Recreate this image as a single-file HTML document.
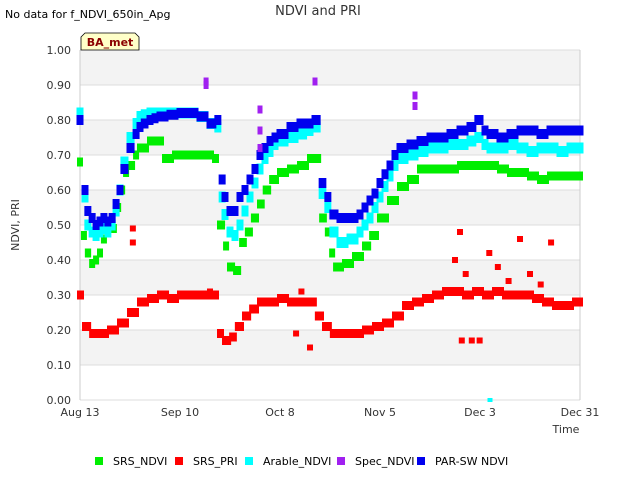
<!DOCTYPE html>
<html><head><meta charset="utf-8"><style>
body{margin:0;background:#fff;font-family:"Liberation Sans",sans-serif}
svg text{font-family:"DejaVu Sans","Liberation Sans",sans-serif}
</style></head><body>
<svg id="chart" width="640" height="480" xmlns="http://www.w3.org/2000/svg">
<rect width="640" height="480" fill="#fff"/>
<g id="bands"></g>
<g id="grid"></g>
<g id="ticks"></g>
<g id="marks"></g>
<text x="5" y="18" font-size="11" fill="#000">No data for f_NDVI_650in_Apg</text>
<text x="318" y="15" font-size="13" fill="#333" text-anchor="middle">NDVI and PRI</text>
<g>
<path d="M81,50 L81,37 L85,33 L135,33 L139,37 L139,50 Z" fill="#ffffc8" stroke="#000" stroke-width="0.8"/>
<text x="110" y="46" font-size="11" font-weight="bold" fill="#8b0000" text-anchor="middle">BA_met</text>
</g>
<text transform="translate(19,225) rotate(-90)" font-size="11" fill="#333" text-anchor="middle">NDVI, PRI</text>
<text x="566" y="433" font-size="11" fill="#333" text-anchor="middle">Time</text>
<g id="legend"></g>
</svg>
<script>
const xTickLabels=["Aug 13","Sep 10","Oct 8","Nov 5","Dec 3","Dec 31"];
const xTickDays=[0,28,56,84,112,140];
const yTicks=[0,0.1,0.2,0.3,0.4,0.5,0.6,0.7,0.8,0.9,1.0];
const blueDays=[0,1.4,2.2,3.4,4.5,5.6,6.7,7.8,9,10.1,11.2,12.3,14,15.7,16.8,18,19.6,21,22.4,25.2,28,30.8,33.6,36.4,38.6,39.8,40.6,42,43.4,44.8,46.2,47.6,49,50.4,51.8,53.2,54.6,56,58.8,61.6,64,65.8,67.8,69.4,70.8,72.8,75.6,78.4,79.8,81.2,82.6,84,85.4,86.8,88.2,89.6,92.4,95.2,98,100.8,103.6,106.4,109.2,111.4,113.4,114.8,117.6,120.4,123.2,126,128.8,131.6,134.4,137.2,140];
const blueVals=[0.80,0.60,0.54,0.52,0.50,0.51,0.52,0.51,0.52,0.56,0.60,0.66,0.72,0.76,0.78,0.79,0.80,0.805,0.81,0.815,0.82,0.82,0.81,0.79,0.80,0.63,0.58,0.54,0.54,0.58,0.60,0.63,0.66,0.70,0.72,0.74,0.75,0.76,0.78,0.79,0.79,0.80,0.62,0.58,0.53,0.52,0.52,0.53,0.55,0.57,0.59,0.62,0.645,0.67,0.70,0.72,0.73,0.74,0.75,0.75,0.76,0.77,0.78,0.80,0.77,0.76,0.75,0.76,0.77,0.77,0.76,0.77,0.77,0.77,0.77];
const cyanDays=blueDays;
const cyanVals=[0.82,0.58,0.50,0.48,0.47,0.48,0.49,0.48,0.50,0.54,0.60,0.68,0.75,0.79,0.81,0.815,0.82,0.82,0.82,0.82,0.82,0.82,0.81,0.79,0.78,0.58,0.53,0.48,0.47,0.50,0.54,0.58,0.62,0.66,0.69,0.71,0.73,0.74,0.75,0.76,0.77,0.78,0.59,0.55,0.48,0.45,0.46,0.48,0.50,0.52,0.55,0.58,0.61,0.64,0.67,0.69,0.70,0.71,0.72,0.72,0.73,0.73,0.74,0.75,0.73,0.72,0.72,0.73,0.72,0.71,0.72,0.72,0.71,0.72,0.72];
const greenDays=[0,1.1,2.2,3.4,4.5,5.6,6.7,7.8,9,10.6,11.8,12.9,14,15.7,16.8,19.6,22.4,23.8,26.6,30.8,35,37.8,39.2,40.9,42,43.7,45.4,47,48.7,50.4,52,53.8,56,58.8,61.6,64.4,66.6,67.8,69.4,70.6,71.7,74.2,77,79.8,81.8,84,86.8,89.6,92.4,95.2,98,100.8,103.6,106.4,109.2,112,114.8,117.6,120.4,123.2,126,128.8,131.6,134.4,137.2,140];
const greenVals=[0.68,0.47,0.42,0.39,0.40,0.42,0.46,0.50,0.49,0.55,0.60,0.65,0.67,0.70,0.72,0.74,0.74,0.69,0.70,0.70,0.70,0.69,0.50,0.44,0.38,0.37,0.45,0.48,0.52,0.56,0.60,0.63,0.65,0.66,0.67,0.69,0.69,0.52,0.48,0.42,0.38,0.39,0.41,0.44,0.47,0.52,0.57,0.61,0.63,0.66,0.66,0.66,0.66,0.67,0.67,0.67,0.67,0.66,0.65,0.65,0.64,0.63,0.64,0.64,0.64,0.64];
const redDays=[0,1.4,3.4,5.6,8.4,11.2,14,16.8,19.6,22.4,25.2,28,30.8,33.6,36.4,39.2,40.6,42.6,44.2,46.2,48.2,50.4,53.2,56,58.8,61.6,64.4,66.6,68.6,70.8,74.2,77,79.8,82.6,85.4,88.2,91,93.8,96.6,99.4,102.2,105,107.8,110.6,113.4,116.2,119,121.8,124.6,127.4,130.2,133,135.8,138.6,140];
const redVals=[0.30,0.21,0.19,0.19,0.20,0.22,0.25,0.28,0.29,0.30,0.29,0.30,0.30,0.30,0.30,0.19,0.17,0.18,0.21,0.24,0.26,0.28,0.28,0.29,0.28,0.28,0.28,0.24,0.21,0.19,0.19,0.19,0.20,0.21,0.22,0.24,0.27,0.28,0.29,0.30,0.31,0.31,0.30,0.31,0.30,0.31,0.30,0.30,0.30,0.29,0.28,0.27,0.27,0.28,0.28];
const redOutDays=[14.8,14.8,106.4,106.9,109.7,111.9,114.6,123.2,131.9,64.4,60.5,36.4,62,105,108,117,120,126,129];
const redOutVals=[0.49,0.45,0.48,0.17,0.17,0.17,0.42,0.46,0.45,0.15,0.19,0.31,0.31,0.40,0.36,0.38,0.34,0.36,0.33];
const specDays=[35.3,35.3,50.4,50.4,50.4,65.8,93.8,93.8];
const specVals=[0.90,0.91,0.83,0.77,0.72,0.91,0.87,0.84];
const cyanOutDays=[114.8];
const cyanOutVals=[0.0];

const NS="http://www.w3.org/2000/svg";
const X0=80,X1=580,Y0=400,Y1=50;
function xs(d){return X0+(X1-X0)*d/140;}
function ys(v){return Y0-(Y0-Y1)*v;}
function mk(tag,attrs,parent){const e=document.createElementNS(NS,tag);for(const k in attrs)e.setAttribute(k,attrs[k]);parent.appendChild(e);return e;}
const bands=document.getElementById('bands'),grid=document.getElementById('grid'),ticks=document.getElementById('ticks'),marks=document.getElementById('marks'),legend=document.getElementById('legend');
for(let i=0;i<10;i++){
  const shaded=(i%2===1);
  const r=mk('rect',{x:X0,y:ys((i+1)/10),width:X1-X0,height:35,fill:shaded?'#f3f3f3':'#fff'},bands);
  
  
}
yTicks.forEach(v=>{
  const l=mk('line',{x1:X0,x2:X1,y1:ys(v),y2:ys(v),stroke:'#dcdcdc','stroke-width':1},grid);
  
  
  const t=mk('text',{x:71,y:ys(v)+4,'font-size':11,fill:'#333','text-anchor':'end'},ticks);
  t.textContent=v.toFixed(2);
  
  
});
mk('line',{x1:X0,x2:X0,y1:Y1,y2:Y0,stroke:'#ccc'},grid);
mk('line',{x1:X1,x2:X1,y1:Y1,y2:Y0,stroke:'#ccc'},grid);
xTickDays.forEach((d,i)=>{
  const t=mk('text',{x:xs(d),y:416,'font-size':11,fill:'#333','text-anchor':'middle'},ticks);
  t.textContent=xTickLabels[i];
  
  
});
// dense-series style: each marker spans to the next sample when close (continuous point cloud look)
function plot(days,vals,color,name,w,h,spread){
  days.forEach((d,i)=>{
    if(vals[i]==null)return;
    let x=xs(d)-w/2, width=w;
    if(spread && i+1<days.length){
      const gap=days[i+1]-d;
      if(gap>0 && gap<4.5) width=Math.max(w, xs(days[i+1])-xs(d)+2);
    }
    const r=mk('rect',{x:x,y:ys(vals[i])-h/2,width:width,height:h,fill:color},marks);
    
    
  });
}
plot(redDays,redVals,'#ff0000','srs-pri-point',6,9,true);
plot(redOutDays,redOutVals,'#ff0000','srs-pri-point',6,6,false);
plot(greenDays,greenVals,'#00ee00','srs-ndvi-point',6,9,true);
plot(cyanDays,cyanVals,'#00ffff','arable-ndvi-point',7,11,true);
plot(cyanOutDays,cyanOutVals,'#00ffff','arable-ndvi-point',5,4,false);
plot(blueDays,blueVals,'#0000ee','par-sw-ndvi-point',7,10,true);
plot(specDays,specVals,'#a020f0','spec-ndvi-point',5,8,false);
const leg=[["SRS_NDVI","#00ee00",95],["SRS_PRI","#ff0000",175],["Arable_NDVI","#00ffff",245],["Spec_NDVI","#a020f0",337],["PAR-SW NDVI","#0000ee",417]];
leg.forEach(e=>{
  const g=mk('g',{},legend);
  
  
  mk('rect',{x:e[2],y:457,width:8,height:8,fill:e[1]},g);
  const t=mk('text',{x:e[2]+18,y:465,'font-size':11,fill:'#000'},g);
  t.textContent=e[0];
});
</script>
</body></html>
